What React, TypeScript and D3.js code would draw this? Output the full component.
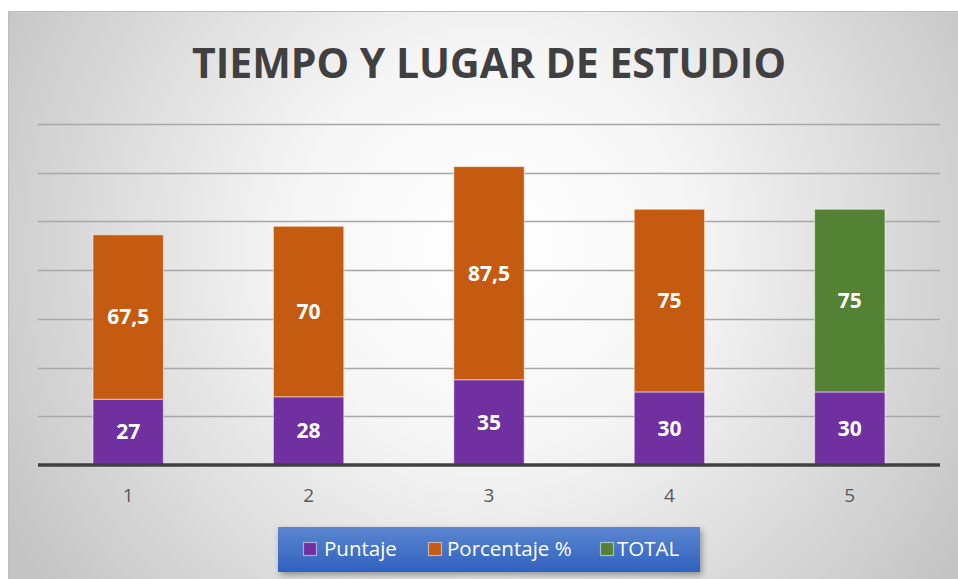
import React from "react";
import * as d3 from "d3";

const categories = ["1", "2", "3", "4", "5"];
const puntaje = [27, 28, 35, 30, 30];
const porcentaje: (number | null)[] = [67.5, 70, 87.5, 75, null];
const total: (number | null)[] = [null, null, null, null, 75];
const yTicks = [0, 20, 40, 60, 80, 100, 120, 140];
const seriesNames = ["Puntaje", "Porcentaje %", "TOTAL"];
const seriesColors = ["#7030A0", "#C55A11", "#548235"];
const title = "TIEMPO Y LUGAR DE ESTUDIO";

const W = 958;
const H = 579;

export default function App() {
  const x = d3.scaleBand<string>().domain(categories).range([38, 940]).paddingInner(0.61).paddingOuter(0.305);
  const y = d3.scaleLinear().domain([0, 140]).range([465, 124]);
  const fmt = (v: number) => String(v).replace(".", ",");

  const segs: { cat: string; y0: number; y1: number; color: string; v: number }[] = [];
  categories.forEach((c, i) => {
    const p = puntaje[i];
    segs.push({ cat: c, y0: 0, y1: p, color: seriesColors[0], v: p });
    const q = porcentaje[i];
    if (q != null) segs.push({ cat: c, y0: p, y1: p + q, color: seriesColors[1], v: q });
    const t = total[i];
    if (t != null) segs.push({ cat: c, y0: p, y1: p + t, color: seriesColors[2], v: t });
  });

  const font = "'Open Sans', 'Noto Sans', sans-serif";
  const legendItems = [
    { x: 303, tx: 324 },
    { x: 428, tx: 447 },
    { x: 600, tx: 617 },
  ];

  return (
    <svg width={W} height={H} style={{ position: "absolute", left: 0, top: 0, display: "block" }}>
      <defs>
        <radialGradient id="bg" cx="490" cy="250" r="560" gradientUnits="userSpaceOnUse">
          <stop offset="0" stopColor="#ffffff" />
          <stop offset="0.35" stopColor="#f6f6f6" />
          <stop offset="1" stopColor="#c4c4c4" />
        </radialGradient>
        <linearGradient id="leg" x1="0" y1="0" x2="0" y2="1">
          <stop offset="0" stopColor="#5b86d0" />
          <stop offset="1" stopColor="#2f61bf" />
        </linearGradient>
        <filter id="sh" x="-10%" y="-30%" width="130%" height="180%">
          <feDropShadow dx="2" dy="3" stdDeviation="3" floodColor="#000" floodOpacity="0.35" />
        </filter>
      </defs>
      <rect x={0} y={0} width={W} height={H} fill="#ffffff" />
      <rect x={8} y={11} width={W - 8} height={H - 11} fill="url(#bg)" />
      <line x1={8} x2={W} y1={11.5} y2={11.5} stroke="#bdbdbd" strokeWidth={1} />
      <line x1={8.5} x2={8.5} y1={11} y2={H} stroke="#bdbdbd" strokeWidth={1} />

      <text x={489} y={78} textAnchor="middle" fontFamily={font} fontWeight={700} fontSize={41} fill="#404040" textLength={594} lengthAdjust="spacingAndGlyphs">
        {title}
      </text>

      {yTicks.slice(1).map((t) => (
        <line key={t} x1={38} x2={940} y1={Math.round(y(t)) + 0.5} y2={Math.round(y(t)) + 0.5} stroke="#a8a8a8" strokeWidth={1.3} />
      ))}

      {segs.map((s, i) => {
        const bx = x(s.cat)!;
        const top = y(s.y1);
        const bot = y(s.y0);
        return (
          <g key={i}>
            <rect x={bx} y={top} width={x.bandwidth()} height={bot - top} fill={s.color} stroke="#ffffff" strokeOpacity={0.5} strokeWidth={1} />
            <text x={bx + x.bandwidth() / 2} y={(top + bot) / 2} dy="0.35em" textAnchor="middle" fontFamily={font} fontWeight={700} fontSize={21} fill="#ffffff">
              {fmt(s.v)}
            </text>
          </g>
        );
      })}

      <line x1={38} x2={940} y1={y(0)} y2={y(0)} stroke="#404040" strokeWidth={3.5} />

      {categories.map((c) => (
        <text key={c} x={x(c)! + x.bandwidth() / 2} y={502} textAnchor="middle" fontFamily={font} fontSize={19} fill="#595959">
          {c}
        </text>
      ))}

      <rect x={278} y={527} width={422} height={45} fill="url(#leg)" filter="url(#sh)" />
      {legendItems.map((it, i) => (
        <g key={i}>
          <rect x={it.x + 0.5} y={542.5} width={13} height={13} fill={seriesColors[i]} stroke="#ffffff" strokeOpacity={0.5} strokeWidth={1.2} />
          <text x={it.tx} y={556} fontFamily={font} fontSize={20.5} fill="#ffffff">
            {seriesNames[i]}
          </text>
        </g>
      ))}
    </svg>
  );
}
